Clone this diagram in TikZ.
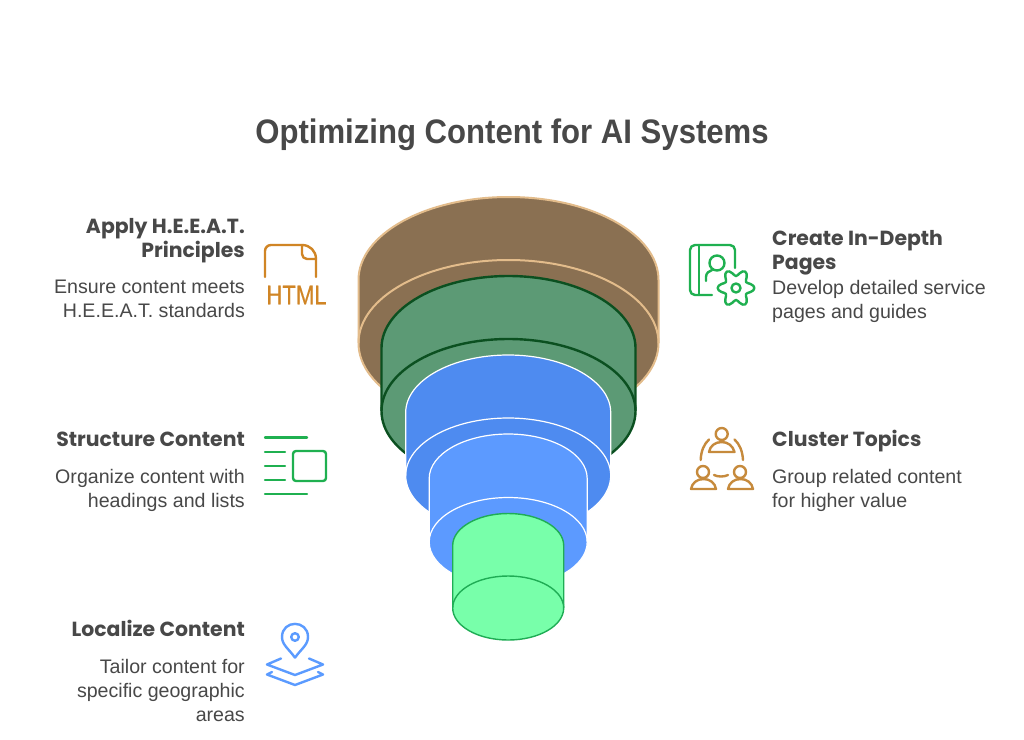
\documentclass[tikz,border=0pt]{standalone}
\usepackage{fontspec}
\usepackage{graphicx}
\setmainfont{Liberation Sans}
\newfontfamily\headf{Poppins}
\newfontfamily\iconf[FakeBold=0.5]{Liberation Sans}
\definecolor{txt}{HTML}{484848}
\definecolor{brownf}{HTML}{8A7052}
\definecolor{browns}{HTML}{E3BC8B}
\definecolor{greenf}{HTML}{5C9A75}
\definecolor{greens}{HTML}{0B5020}
\definecolor{bluea}{HTML}{4E8BF0}
\definecolor{blueb}{HTML}{5C9AFF}
\definecolor{mintf}{HTML}{78FFAA}
\definecolor{mints}{HTML}{1FAD55}
\definecolor{icorange}{HTML}{D08525}
\definecolor{icgreen}{HTML}{1FB050}
\definecolor{icbrown}{HTML}{C68A3C}
\definecolor{icblue}{HTML}{5B9BFF}
\tikzset{
 titletext/.style={text=txt,inner sep=0pt,anchor=base,font=\fontsize{34}{40}\selectfont\bfseries},
 headl/.style={text=txt,inner sep=0pt,align=right,anchor=base east,font=\headf\fontsize{20.4}{24}\selectfont\bfseries},
 headr/.style={text=txt,inner sep=0pt,align=left,anchor=base west,font=\headf\fontsize{20.4}{24}\selectfont\bfseries},
 bodyl/.style={text=txt,inner sep=0pt,align=right,anchor=base east,font=\fontsize{19.6}{24}\selectfont},
 bodyr/.style={text=txt,inner sep=0pt,align=left,anchor=base west,font=\fontsize{19.6}{24}\selectfont},
 icon/.style={line width=2.4pt,line cap=round,line join=round,fill=none},
}
% cx, top ellipse centre y, height, rx, ry, fill, stroke, line width
\newcommand{\cyl}[8]{%
 \path[fill=#6,draw=#7,line width=#8pt]
   ({#1-#4},#2) arc[start angle=180,end angle=360,x radius=#4,y radius=#5]
   -- ({#1+#4},{#2+#3}) arc[start angle=0,end angle=180,x radius=#4,y radius=#5] -- cycle;
 \draw[draw=#7,line width=#8pt]
   ({#1-#4},{#2+#3}) arc[start angle=180,end angle=360,x radius=#4,y radius=#5];
}
\begin{document}
\begin{tikzpicture}[x=1pt,y=-1pt]
\useasboundingbox (0,0) rectangle (1024,739);
\fill[white] (0,0) rectangle (1024,739);
\node[titletext] (title) at (512,143) {\scalebox{.915}[1]{Optimizing Content for AI Systems}};

\cyl{508.5}{280}{63}{150}{83}{brownf}{browns}{2}
\cyl{508.5}{348}{63}{127}{72}{greenf}{greens}{2.4}
\cyl{508.2}{412.5}{63}{102.5}{57.5}{bluea}{white}{1.2}
\cyl{508.2}{478.5}{63.5}{79}{44.5}{blueb}{white}{1.2}
\cyl{508.2}{545.5}{62.5}{55.5}{32}{mintf}{mints}{1.4}

% left texts
\node[headl] (h1) at (245,257) {Apply H.E.E.A.T.\\Principles};
\node[bodyl] (b1) at (245,317) {Ensure content meets\\H.E.E.A.T. standards};
\node[headl] (h2) at (245,446) {Structure Content};
\node[bodyl] (b2) at (245,507) {Organize content with\\headings and lists};
\node[headl] (h3) at (245,636) {Localize Content};
\node[bodyl] (b3) at (245,721) {Tailor content for\\specific geographic\\areas};
% right texts
\node[headr] (h4) at (772,269) {Create In-Depth\\Pages};
\node[bodyr] (b4) at (772,318) {Develop detailed service\\pages and guides};
\node[headr] (h5) at (772,446) {Cluster Topics};
\node[bodyr] (b5) at (772,507) {Group related content\\for higher value};

% HTML icon
\draw[icon,draw=icorange] (265,277) -- (265,251) arc[start angle=180,end angle=270,radius=6] -- (302,245) .. controls (310,245) and (316,251) .. (316,259) -- (316,277);
\draw[icon,draw=icorange] (302,245) -- (302,254) arc[start angle=180,end angle=90,radius=5] -- (316,259);
\node[inner sep=0pt,text=icorange,font=\iconf\fontsize{27}{27}\selectfont] (html) at (296.5,295) {\scalebox{.82}[1]{HTML}};

% structure icon
\draw[icon,draw=icgreen] (265,437.3) -- (307,437.3);
\draw[icon,draw=icgreen] (265,451.7) -- (285,451.7);
\draw[icon,draw=icgreen] (265,466) -- (285,466);
\draw[icon,draw=icgreen] (265,480) -- (285,480);
\draw[icon,draw=icgreen] (265,494) -- (307,494);
\draw[icon,draw=icgreen,rounded corners=3pt] (293,451) rectangle (326,481);

% location icon
\draw[icon,draw=icblue] (295,657.7) .. controls (289,649) and (282,645) .. (282,637)
   .. controls (282,619.5) and (308,619.5) .. (308,637) .. controls (308,645) and (301,649) .. (295,657.7);
\draw[icon,draw=icblue] (295,637) circle[radius=3.8];
\draw[icon,draw=icblue] (281,658.5) -- (267,664.5) -- (295,675) -- (323,664.5) -- (309,658.5);
\draw[icon,draw=icblue] (272,672) -- (267,674.5) -- (295,685) -- (323,674.5) -- (318,672);

% book and gear icon
\draw[icon,draw=icgreen] (735,268) -- (735,250) arc[start angle=0,end angle=-90,radius=5] -- (695,245)
   arc[start angle=270,end angle=180,radius=5] -- (690,290) arc[start angle=180,end angle=90,radius=5] -- (712,295);
\draw[icon,draw=icgreen] (699,245) -- (699,295);
\draw[icon,draw=icgreen] (717,263) circle[radius=7.5];
\draw[icon,draw=icgreen] (706,281) -- (706,277) .. controls (706,273) and (709,271) .. (712,270);
\draw[icon,draw=icgreen] plot[smooth cycle,samples=48,domain=0:352.5,variable=\t] ({736+(15+3.4*sin(6*\t+90))*cos(\t+0)},{288+(15+3.4*sin(6*\t+90))*sin(\t+0)*1.03});
\draw[icon,draw=icgreen] (736,288) circle[radius=4.5];

% group icon
\draw[icon,draw=icbrown] (721.7,434) circle[radius=6];
\draw[icon,draw=icbrown] (709,452) .. controls (710,446) and (715,442) .. (721.7,442) .. controls (728,442) and (733,446) .. (734.5,452) -- cycle;
\draw[icon,draw=icbrown] (703,472) circle[radius=6];
\draw[icon,draw=icbrown] (691,489) .. controls (692,483) and (697,479) .. (703.5,479) .. controls (710,479) and (715,483) .. (716,489) -- cycle;
\draw[icon,draw=icbrown] (740,472) circle[radius=6];
\draw[icon,draw=icbrown] (728,489) .. controls (729,483) and (734,479) .. (740.5,479) .. controls (747,479) and (752,483) .. (753,489) -- cycle;
\draw[icon,draw=icbrown] (700.7,460) .. controls (701,451) and (704,444) .. (709,439.5);
\draw[icon,draw=icbrown] (743,460) .. controls (742.5,451) and (739.5,444) .. (734.5,439.5);
\draw[icon,draw=icbrown] (714,475) .. controls (718,477) and (724,477) .. (728,475);
\end{tikzpicture}
\end{document}
